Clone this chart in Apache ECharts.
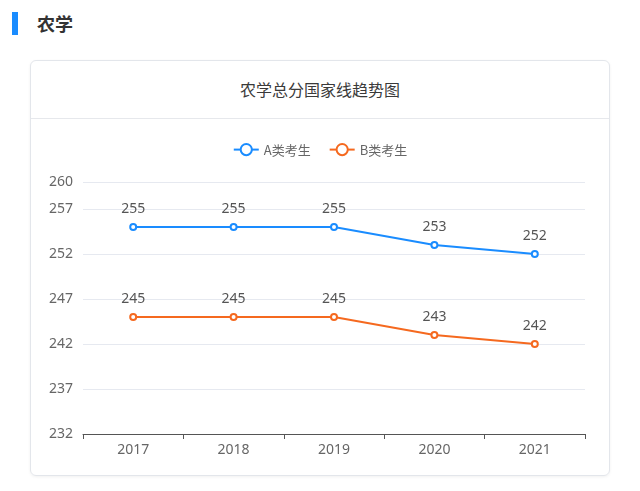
<!DOCTYPE html>
<html><head><meta charset="utf-8">
<script src="https://cdn.jsdelivr.net/npm/echarts@6/dist/echarts.min.js"></script>
<style>
html,body{margin:0;padding:0;background:#fff;width:640px;height:491px;overflow:hidden;font-family:"Noto Sans CJK SC","Noto Sans",sans-serif;}
#bar{position:absolute;left:12px;top:12px;width:6px;height:23px;background:#1a8cff;}
#head{position:absolute;left:37px;top:9px;font-size:18px;font-weight:bold;color:#333;line-height:28px;}
#card{position:absolute;left:30px;top:60px;width:578px;height:414px;border:1px solid #e3e6eb;border-radius:6px;box-shadow:0 1px 3px rgba(0,0,0,0.06);}
#ctitle{position:absolute;left:0;right:0;top:0;height:57px;line-height:57px;text-align:center;font-size:16px;color:#3a3a3a;border-bottom:1px solid #e6e8ec;}
#chart{position:absolute;left:0;top:0;width:640px;height:491px;}
</style></head>
<body>
<div id="bar"></div><div id="head">农学</div>
<div id="card"><div id="ctitle">农学总分国家线趋势图</div></div>
<div id="chart"></div>
<script>
const years = ['2017','2018','2019','2020','2021'];
const seriesA = [255,255,255,253,252];
const seriesB = [245,245,245,243,242];
const nameA = 'A类考生';
const nameB = 'B类考生';
const yMin = 232, yMax = 260, yStep = 5;

const chart = echarts.init(document.getElementById('chart'));
const txt = {color:'#666', fontSize:13, fontFamily:'"Noto Sans CJK SC","Noto Sans",sans-serif'};
function mk(name, data, color){
  return {name, type:'line', data, symbol:'emptyCircle', symbolSize:6,
    itemStyle:{color}, lineStyle:{color, width:2},
    label:{show:true, position:'top', distance:7, color:'#555', fontSize:14, fontFamily:'"Noto Sans","Noto Sans CJK SC",sans-serif'}};
}
chart.setOption({
  animation:false,
  legend:{top:138, left:'center', itemWidth:25, itemHeight:14, itemGap:18,
    textStyle:txt, data:[nameA,nameB]},
  grid:{left:83, right:55, top:182, bottom:57},
  xAxis:{type:'category', data:years, boundaryGap:true,
    axisLine:{lineStyle:{color:'#555'}}, axisTick:{show:true, lineStyle:{color:'#555'}},
    axisLabel:{color:'#666', fontSize:14, margin:9, fontFamily:'"Noto Sans",sans-serif'}},
  yAxis:{type:'value', min:yMin, max:yMax, interval:yStep,
    axisLine:{show:false}, axisTick:{show:false},
    axisLabel:{color:'#666', fontSize:14, margin:10, fontFamily:'"Noto Sans",sans-serif', showMaxLabel:true},
    splitLine:{lineStyle:{color:'#e6e9f0'}}},
  series:[mk(nameA, seriesA, '#1a8cff'), mk(nameB, seriesB, '#f5691f')]
});
</script>
</body></html>
